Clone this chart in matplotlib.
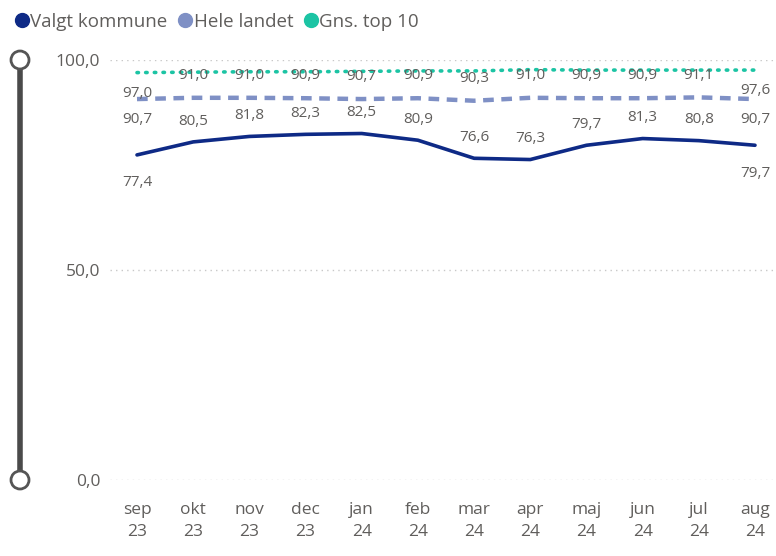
import matplotlib.pyplot as plt
from matplotlib.lines import Line2D
from matplotlib.patches import Circle

# data
months = ["sep\n23", "okt\n23", "nov\n23", "dec\n23", "jan\n24", "feb\n24",
          "mar\n24", "apr\n24", "maj\n24", "jun\n24", "jul\n24", "aug\n24"]
valgt = [77.4, 80.5, 81.8, 82.3, 82.5, 80.9, 76.6, 76.3, 79.7, 81.3, 80.8, 79.7]
hele = [90.7, 91.0, 91.0, 90.9, 90.7, 90.9, 90.3, 91.0, 90.9, 90.9, 91.1, 90.7]
top10 = [97.0, 97.1, 97.2, 97.2, 97.3, 97.4, 97.4, 97.7, 97.6, 97.6, 97.6, 97.6]
yticks = [0, 50, 100]

c_valgt = "#0E2A86"
c_hele = "#7F90C5"
c_top = "#1CC4A4"
txt = "#605E5C"

plt.rcParams['font.family'] = ['Open Sans', 'DejaVu Sans']

fig = plt.figure(figsize=(7.76, 5.56), dpi=100)
W, H = 776, 556
# axes: x=0 -> 137px, x=11 -> 755px ; y=0 -> 480px, y=100 -> 60px
ppu = (755 - 137) / 11
left_px, right_px = 110, 776
ax = fig.add_axes([left_px / W, (H - 480) / H, (right_px - left_px) / W, 420 / H])
ax.set_xlim(-(137 - left_px) / ppu, 11 + (right_px - 755) / ppu)
ax.set_ylim(0, 100)

x = list(range(len(months)))
ax.plot(x, top10, color=c_top, lw=2.6, ls=(0, (0.4, 2.0)), dash_capstyle="round",
        clip_on=False, zorder=3)
ax.plot(x, hele, color=c_hele, lw=3.2, ls=(0, (2.4, 1.7)), clip_on=False, zorder=3)
ax.plot(x, valgt, color=c_valgt, lw=2.6, solid_joinstyle="round",
        solid_capstyle="round", clip_on=False, zorder=4)

for gy in yticks:
    ax.axhline(gy, color="#C8C8C8", lw=1, ls=(0, (1, 3)), zorder=1)

def fmt(v):
    return f"{v:.1f}".replace(".", ",")

lab_kw = dict(textcoords="offset points", ha="center", va="center",
              fontsize=11, color=txt, zorder=5)
last = len(months) - 1
for i in x:
    # valgt kommune
    off = -20 if i in (0, last) else 15
    ax.annotate(fmt(valgt[i]), (i, valgt[i]), xytext=(0, off), **lab_kw)
    # hele landet
    off = -15 if i in (0, last) else 16
    ax.annotate(fmt(hele[i]), (i, hele[i]), xytext=(0, off), **lab_kw)
# top 10: only first and last shown
for i in (0, last):
    ax.annotate(fmt(top10[i]), (i, top10[i]), xytext=(0, -15), **lab_kw)

ax.set_xticks(x)
ax.set_xticklabels(months, fontsize=12.5, color=txt, linespacing=1.45)
ax.set_yticks(yticks)
ax.set_yticklabels([fmt(v) for v in yticks], fontsize=12.5, color=txt)
ax.tick_params(axis="both", length=0)
ax.tick_params(axis="x", pad=16)
ax.tick_params(axis="y", pad=7)
for s in ax.spines.values():
    s.set_visible(False)

# zoom slider on the left
sx = 20 / W
fig.add_artist(Line2D([sx, sx], [(H - 60) / H, (H - 480) / H], color="#4A4A4A",
                      lw=4, transform=fig.transFigure, zorder=1))
for py in (60, 480):
    fig.add_artist(Circle((20, H - py), 9, transform=None, facecolor="white",
                          edgecolor="#555555", lw=2, zorder=2))

# legend
handles = [Line2D([], [], ls="", marker="o", markersize=10, color=c)
           for c in (c_valgt, c_hele, c_top)]
fig.legend(handles, ["Valgt kommune", "Hele landet", "Gns. top 10"],
           loc="upper left", bbox_to_anchor=(0.0, 0.997), ncol=3, frameon=False,
           fontsize=13.5, labelcolor=txt, handletextpad=-0.1, columnspacing=0.4,
           handlelength=1.1, borderaxespad=0.2)

fig.savefig("out.png", dpi=100)
